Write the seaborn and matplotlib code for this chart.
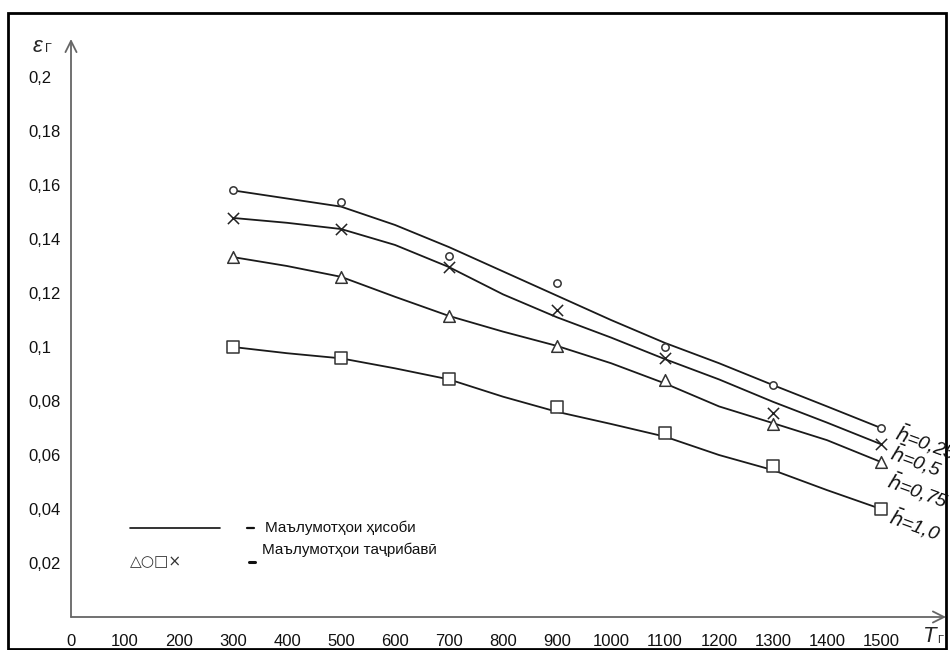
import matplotlib
matplotlib.use("Agg")
import matplotlib.pyplot as plt
from matplotlib.lines import Line2D
from matplotlib.patches import Rectangle
import seaborn as sns
import pandas as pd

"""data"""

T_exp = [300, 500, 700, 900, 1100, 1300, 1500]
exp_025 = [0.158, 0.1537, 0.1337, 0.1237, 0.100, 0.0859, 0.070]
exp_05 = [0.1478, 0.1437, 0.1296, 0.1137, 0.0959, 0.0756, 0.064]
exp_075 = [0.1333, 0.126, 0.1115, 0.1004, 0.0878, 0.0715, 0.0574]
exp_10 = [0.100, 0.096, 0.088, 0.0778, 0.068, 0.0559, 0.040]

T_calc = [300, 400, 500, 600, 700, 800, 900, 1000, 1100, 1200, 1300, 1400, 1500]
calc_025 = [0.158, 0.155, 0.152, 0.1452, 0.137, 0.128, 0.119, 0.110, 0.1015, 0.094, 0.0859, 0.078, 0.070]
calc_05 = [0.1478, 0.146, 0.1437, 0.1378, 0.1296, 0.1195, 0.111, 0.1035, 0.0955, 0.088, 0.0797, 0.072, 0.064]
calc_075 = [0.1333, 0.130, 0.126, 0.1186, 0.1115, 0.1057, 0.1004, 0.094, 0.0865, 0.078, 0.0718, 0.0655, 0.0574]
calc_10 = [0.100, 0.0977, 0.0958, 0.0921, 0.088, 0.0816, 0.076, 0.0715, 0.0668, 0.060, 0.0544, 0.047, 0.040]

h_labels = ["0,25", "0,5", "0,75", "1,0"]
x_ticks = list(range(0, 1600, 100))
y_ticks = [0.02, 0.04, 0.06, 0.08, 0.1, 0.12, 0.14, 0.16, 0.18, 0.2]
y_ticklabels = ["0,02", "0,04", "0,06", "0,08", "0,1", "0,12", "0,14", "0,16", "0,18", "0,2"]
legend_calc = "Маълумотҳои ҳисоби"
legend_exp = "Маълумотҳои таҷрибавӣ"

calc = pd.DataFrame({"T": T_calc * 4,
                     "eps": calc_025 + calc_05 + calc_075 + calc_10,
                     "h": sum([[h] * len(T_calc) for h in h_labels], [])})

exp_series = [exp_025, exp_05, exp_075, exp_10]
markers = ["o", "x", "^", "s"]
msizes = [28, 65, 70, 80]

"""plot"""

sns.set_theme(style="white")
plt.rcParams["font.family"] = ["Liberation Sans", "DejaVu Sans"]

fig = plt.figure(figsize=(9.5, 6.5), dpi=100)
W, H = 950, 650
ax = fig.add_axes([71 / W, 1 - 617 / H, (946 - 71) / W, (617 - 39) / H])

sns.lineplot(data=calc, x="T", y="eps", units="h", estimator=None,
             color="#1a1a1a", linewidth=1.3, ax=ax, legend=False)

for vals, m, s in zip(exp_series, markers, msizes):
    if m == "x":
        sns.scatterplot(x=T_exp, y=vals, marker="x", s=s, color="#222222",
                        linewidth=1.1, ax=ax, zorder=3)
    else:
        sns.scatterplot(x=T_exp, y=vals, marker=m, s=s, facecolor="white",
                        edgecolor="#333333", linewidth=1.1, ax=ax, zorder=3)

ax.set_xlim(0, (946 - 71) / 0.54)
ax.set_ylim(0, (617 - 39) / 2700)
ax.set_xlabel("")
ax.set_ylabel("")
for sp in ax.spines.values():
    sp.set_visible(False)

ax.set_xticks(x_ticks)
ax.set_xticklabels([str(t) for t in x_ticks])
ax.set_yticks(y_ticks)
ax.set_yticklabels(y_ticklabels)
ax.tick_params(axis="x", length=0, pad=12, labelsize=12, labelcolor="#111111")
ax.tick_params(axis="y", length=0, pad=31, labelsize=12, labelcolor="#111111")
for lab in ax.get_yticklabels():
    lab.set_horizontalalignment("left")

# axes with arrows
ax.annotate("", xy=(1, 0), xytext=(0, 0), xycoords="axes fraction",
            arrowprops=dict(arrowstyle="->", lw=1.3, color="#666666",
                            shrinkA=0, shrinkB=0, mutation_scale=20))
ax.annotate("", xy=(0, 1), xytext=(0, 0), xycoords="axes fraction",
            arrowprops=dict(arrowstyle="->", lw=1.3, color="#666666",
                            shrinkA=0, shrinkB=0, mutation_scale=20))

# axis names
fig.text(923 / W, 1 - 636 / H, "T", fontsize=16, fontstyle="italic", va="center")
fig.text(937 / W, 1 - 640 / H, "Г", fontsize=8, va="center")
fig.text(33 / W, 1 - 46 / H, "ε", fontsize=16, fontstyle="italic", va="center")
fig.text(45 / W, 1 - 49 / H, "Г", fontsize=9, va="center")

# curve labels
lab_pos = [(896, 431), (891, 451), (888, 479), (890, 515)]
for (px, py), h in zip(lab_pos, h_labels):
    fig.text(px / W, 1 - py / H, r"$\bar{h}$=" + h, fontsize=14, fontstyle="italic",
             rotation=-20, rotation_mode="anchor", ha="left", va="center",
             color="#111111")

# legend
fig.add_artist(Line2D([130 / W, 220 / W], [1 - 528 / H, 1 - 528 / H],
                      transform=fig.transFigure, color="#111111", lw=1.2))
fig.add_artist(Line2D([247 / W, 254 / W], [1 - 528 / H, 1 - 528 / H],
                      transform=fig.transFigure, color="#111111", lw=1.6))
fig.text(265 / W, 1 - 528 / H, legend_calc, fontsize=11, va="center", color="#111111")
fig.text(130 / W, 1 - 562 / H, "△○□×", fontsize=11, va="center",
         family="DejaVu Sans", color="#333333")
fig.add_artist(Line2D([249 / W, 255 / W], [1 - 562 / H, 1 - 562 / H],
                      transform=fig.transFigure, color="#111111", lw=2.2))
fig.text(262 / W, 1 - 550 / H, legend_exp, fontsize=11, va="center", color="#111111")

# frame round the picture
fig.add_artist(Rectangle((8 / W, 1 - 649 / H), (946 - 8) / W, (649 - 13) / H,
                         transform=fig.transFigure, fill=False, edgecolor="black", lw=2))

fig.savefig("out.png", dpi=100)
